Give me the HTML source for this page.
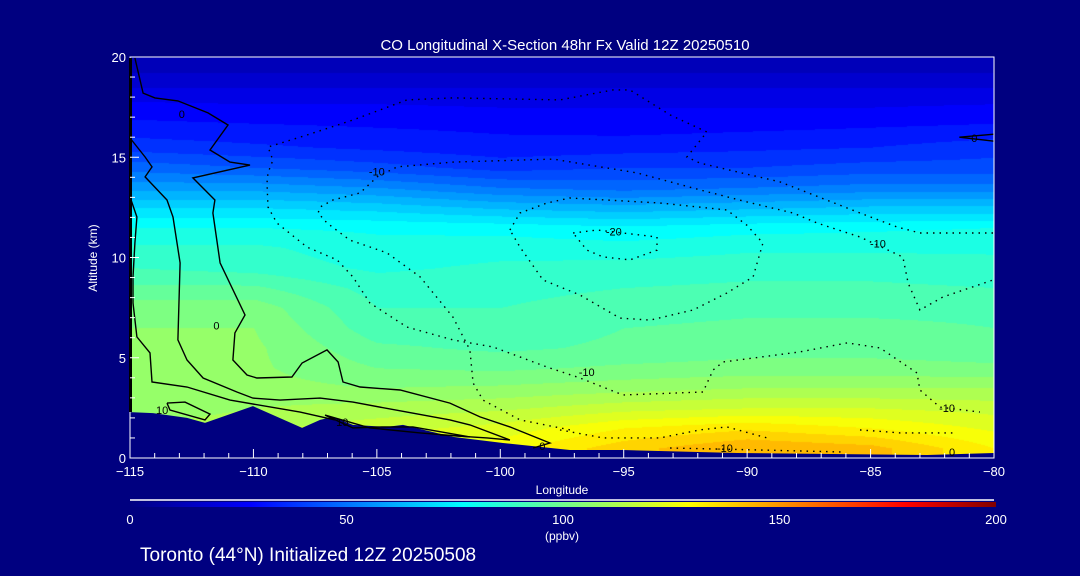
<!DOCTYPE html>
<html><head><meta charset="utf-8">
<style>
body{margin:0;background:#000080;width:1080px;height:576px;overflow:hidden;font-family:"Liberation Sans",sans-serif;}
#wrap{position:relative;width:1080px;height:576px;}
canvas{position:absolute;left:130px;top:57px;}
svg{position:absolute;left:0;top:0;}
text{fill:#fff;font-family:"Liberation Sans",sans-serif;}
</style></head><body>
<div id="wrap">
<canvas id="heat" width="864" height="401"></canvas>
<svg id="svg" width="1080" height="576">
<defs><linearGradient id="cbg" x1="0" x2="1" y1="0" y2="0">
<stop offset="0" stop-color="#000080"/><stop offset="0.14" stop-color="#0000ff"/><stop offset="0.385" stop-color="#00ffff"/><stop offset="0.645" stop-color="#ffff00"/><stop offset="0.77" stop-color="#ff8000"/><stop offset="0.895" stop-color="#ff0000"/><stop offset="1" stop-color="#800000"/></linearGradient></defs>
<text x="565" y="50" font-size="15" text-anchor="middle">CO Longitudinal X-Section 48hr  Fx Valid 12Z 20250510</text>
<g id="terrain"></g>
<g id="contours"></g>
<g id="labels"></g>
<rect x="130" y="57" width="864" height="401" fill="none" stroke="#fff" stroke-width="1"/>
<rect x="129" y="58" width="3" height="354" fill="#000"/>
<g id="axes"></g>
<text x="562" y="494" font-size="12" text-anchor="middle">Longitude</text>
<text x="97" y="258" font-size="12" text-anchor="middle" transform="rotate(-90 97 258)">Altitude (km)</text>
<line x1="130" y1="500" x2="994" y2="500" stroke="#fff" stroke-width="1.5"/>
<rect x="130" y="502" width="866" height="5" fill="url(#cbg)"/>
<g id="cbticks"></g>
<text x="562" y="540" font-size="12" text-anchor="middle">(ppbv)</text>
<text x="140" y="561" font-size="19">Toronto (44°N) Initialized 12Z 20250508</text>
</svg>
</div>
<script>
const lons=[-115,-110,-105,-100,-95,-90,-85,-80];
const alts=[0.5,1.5,2.5,3.5,4.5,5.5,6.5,7.5,8.5,9.5,10.5,11.5,12.5,13.5,14.5,15.5,16.5,17.5,18.5,19.5];
const coValues=[
[115,118,122,128,138,145,142,130],
[110,114,118,122,130,134,130,124],
[106,110,112,114,118,120,120,118],
[106,107,105,106,108,110,110,110],
[106,106,100,99,101,102,102,101],
[106,106,96,94,96,98,98,97],
[105,105,92,92,95,96,96,95],
[103,103,90,90,93,94,94,94],
[96,96,88,88,90,91,91,90],
[90,88,84,86,87,88,88,87],
[86,86,82,83,82,84,84,84],
[80,80,79,78,76,78,79,80],
[70,70,68,64,62,64,66,66],
[58,58,55,50,48,50,52,52],
[48,45,42,38,40,40,42,42],
[38,36,34,32,33,34,35,38],
[32,31,30,29,28,29,30,31],
[27,26,26,25,25,25,25,26],
[20,20,20,20,20,20,20,20],
[13,13,13,13,13,13,13,13]];
const terrain=[[-115,2.29],[-114.07,2.24],[-112.69,2.0],[-111.96,1.75],[-110.02,2.59],[-108.03,1.5],[-107.3,1.9],[-106.78,2.05],[-105.97,1.65],[-104.59,1.55],[-103.94,1.65],[-101.92,1.05],[-99.89,0.75],[-97.18,0.4],[-95.03,0.4],[-90.41,0.25],[-82.71,0.15],[-80,0.25]];
const solidContours=[
[[-114.8,19.95],[-114.47,18.2],[-113.99,17.96],[-113.06,17.81],[-111.84,17.21],[-111.03,16.61],[-111.76,15.36],[-110.95,14.76],[-110.14,14.61],[-112.45,13.97],[-111.56,12.87],[-111.64,12.22],[-111.35,9.73],[-110.34,7.13],[-110.75,6.24],[-110.83,4.89],[-110.26,4.14],[-109.86,3.99],[-108.44,4.04],[-108.03,4.74],[-107.02,5.39],[-106.57,4.79],[-106.37,3.79],[-105.68,3.54],[-104.06,3.39],[-102.04,2.74],[-100.82,2.05],[-99.61,1.55],[-97.99,0.75],[-98.67,0.5]],
[[-115,15.96],[-114.39,15.01],[-114.11,14.52],[-114.39,14.02],[-113.5,12.87],[-113.26,12.02],[-112.97,9.73],[-113.06,5.89],[-112.69,4.89],[-112.04,3.99],[-110.67,3.29],[-110.02,2.99],[-108.92,2.89],[-107.3,2.99],[-105.97,2.79],[-103.78,2.29],[-102.04,1.9],[-101.23,1.65],[-99.61,0.9],[-100.54,1.0],[-102.44,1.15]],
[[-115,13.02],[-114.72,12.02],[-114.8,10.72],[-114.88,9.03],[-114.88,7.73],[-114.72,6.04],[-114.19,5.24],[-114.11,3.79],[-112.69,3.54],[-110.95,2.89],[-108.11,2.29],[-106.7,1.9]],
[[-113.5,2.74],[-112.77,2.79],[-111.76,2.19],[-111.96,1.9],[-113.38,2.39],[-113.5,2.74]],
[[-107.1,2.14],[-105.97,1.5],[-104.75,1.55],[-103.54,1.55],[-101.23,1.05],[-103.25,1.25],[-105.28,1.5],[-107.1,2.14]],
[[-81.4,16.0],[-80,16.15]],[[-81.4,16.0],[-80,15.8]]];
const dottedContours=[
[[-80.04,11.22],[-83.0,11.22],[-83.93,11.52],[-85.43,12.22],[-88.67,13.77],[-89.88,14.12],[-91.91,14.71],[-92.44,15.01],[-91.63,16.26],[-93.12,17.11],[-94.75,18.36],[-95.43,18.36],[-97.58,17.86],[-101.92,17.96],[-103.78,17.86],[-105.97,16.86],[-107.83,16.11],[-109.41,15.51],[-109.21,14.86],[-109.41,14.22],[-109.45,13.72],[-109.41,12.52],[-109.05,11.72],[-107.83,10.52],[-106.61,9.88],[-105.97,9.03],[-105.28,7.73],[-103.78,6.53],[-101.92,5.89],[-100.3,5.54],[-98.11,4.54],[-96.77,3.99],[-95.03,3.14],[-91.79,3.29],[-91.38,4.39],[-90.98,4.79],[-87.86,5.29],[-85.95,5.74],[-84.62,5.49],[-83.12,4.24],[-83.0,3.39],[-82.19,2.54],[-80.57,2.29]],
[[-97.18,1.4],[-99.2,1.9],[-100.7,2.89],[-101.1,3.74],[-101.23,5.39],[-101.92,7.03],[-103.25,9.03],[-104.59,10.23],[-106.09,10.87],[-107.02,11.72],[-107.38,12.22],[-107.3,12.52],[-106.78,12.87],[-105.68,13.22],[-104.99,14.02],[-104.18,14.52],[-101.92,14.76],[-97.86,14.91],[-94.46,14.22],[-91.91,13.37],[-90.0,12.77],[-88.14,12.22],[-87.17,11.72],[-85.43,11.02],[-83.69,10.02],[-83.48,8.73],[-83.0,7.38],[-82.07,8.03],[-80.04,8.88]],
[[-99.61,11.37],[-99.2,12.22],[-98.11,12.72],[-97.18,12.97],[-93.53,12.72],[-90.82,12.37],[-90.0,11.6],[-89.36,10.72],[-89.76,9.03],[-90.82,8.23],[-92.19,7.38],[-93.93,6.88],[-95.15,6.98],[-96.77,8.13],[-98.27,8.88],[-99.2,10.52],[-99.61,11.37]],
[[-97.05,11.22],[-96.08,11.37],[-93.65,11.02],[-93.65,10.37],[-94.75,9.88],[-95.84,10.03],[-96.49,10.37],[-97.05,11.22]],
[[-97.58,1.4],[-95.84,1.0],[-93.53,1.0],[-91.91,1.4],[-90.82,1.55],[-89.2,1.0]],
[[-93.12,0.5],[-89.48,0.4],[-86.12,0.3]],
[[-85.43,1.4],[-83.81,1.25],[-81.66,1.25]]];
const contourLabels=["0","0","10","10","0","-10","-20","-10","-10","-10","-10","0","0"];
const labelLons=[-112.9,-111.5,-113.7,-106.4,-98.3,-105.0,-95.4,-84.7,-96.5,-81.9,-90.9,-81.7,-80.8];
const labelAlts=[17.15,6.6,2.4,1.8,0.6,14.3,11.3,10.7,4.3,2.5,0.5,0.3,15.95];
const xTicks=[-115,-110,-105,-100,-95,-90,-85,-80];
const xTickLabels=["−115","−110","−105","−100","−95","−90","−85","−80"];
const yTicks=[0,5,10,15,20];
const cbTicks=[0,50,100,150,200];

const PX=130,PY=57,PW=864,PH=401;
const xS=l=>PX+(l+115)/35*PW;
const yS=a=>PY+PH-a/20*PH;
const cS=v=>130+v/200*866;
const NS='http://www.w3.org/2000/svg';
const stops=[[0,[0,0,128]],[28,[0,0,255]],[77,[0,255,255]],[129,[255,255,0]],[154,[255,128,0]],[179,[255,0,0]],[200,[128,0,0]]];
function cmap(v){v=Math.max(0,Math.min(200,v));for(let i=1;i<stops.length;i++){if(v<=stops[i][0]){const a=stops[i-1],b=stops[i];const t=(v-a[0])/(b[0]-a[0]);return a[1].map((c,k)=>Math.round(c+(b[1][k]-c)*t));}}return stops[6][1];}
function interp(lon,alt){
  let i=0;while(i<lons.length-2&&lon>lons[i+1])i++;
  let j=0;while(j<alts.length-2&&alt>alts[j+1])j++;
  let tx=Math.max(0,Math.min(1,(lon-lons[i])/(lons[i+1]-lons[i])));
  let ty=Math.max(0,Math.min(1,(alt-alts[j])/(alts[j+1]-alts[j])));
  const v00=coValues[j][i],v10=coValues[j][i+1],v01=coValues[j+1][i],v11=coValues[j+1][i+1];
  return (v00*(1-tx)+v10*tx)*(1-ty)+(v01*(1-tx)+v11*tx)*ty;
}
const ctx=document.getElementById('heat').getContext('2d');
const img=ctx.createImageData(PW,PH);
for(let y=0;y<PH;y++){const alt=(PH-y)/PH*20;for(let x=0;x<PW;x++){const lon=-115+x/PW*35;let v=interp(lon,alt);v=Math.floor(v/5)*5+2.5;const c=cmap(v);const k=(y*PW+x)*4;img.data[k]=c[0];img.data[k+1]=c[1];img.data[k+2]=c[2];img.data[k+3]=255;}}
ctx.putImageData(img,0,0);

function mk(tag,attrs,parent){const e=document.createElementNS(NS,tag);for(const k in attrs)e.setAttribute(k,attrs[k]);parent.appendChild(e);return e;}
const tg=document.getElementById('terrain');
let tp=terrain.map(p=>xS(p[0]).toFixed(1)+','+yS(p[1]).toFixed(1)).join(' ')+' '+xS(-80)+','+yS(0)+' '+xS(-115)+','+yS(0);
const tEl=mk('polygon',{points:tp,fill:'#000080'},tg);


const cg=document.getElementById('contours');
solidContours.forEach(c=>{const e=mk('polyline',{points:c.map(p=>xS(p[0]).toFixed(1)+','+yS(p[1]).toFixed(1)).join(' '),fill:'none',stroke:'#000','stroke-width':1.4},cg);

});
dottedContours.forEach(c=>{const e=mk('polyline',{points:c.map(p=>xS(p[0]).toFixed(1)+','+yS(p[1]).toFixed(1)).join(' '),fill:'none',stroke:'#000','stroke-width':1.4,'stroke-dasharray':'1.5 5'},cg);

});
const lg=document.getElementById('labels');
contourLabels.forEach((t,i)=>{const e=mk('text',{x:xS(labelLons[i]),y:yS(labelAlts[i])+4,'font-size':11,'text-anchor':'middle',style:'fill:#000'},lg);e.textContent=t;

});
const ag=document.getElementById('axes');
for(let l=-115;l<=-80;l++){const maj=(l%5===0);mk('line',{x1:xS(l),x2:xS(l),y1:PY+PH,y2:PY+PH-(maj?9:5),stroke:'#fff','stroke-width':1},ag);}
xTicks.forEach((l,i)=>{const e=mk('text',{x:xS(l),y:476,'font-size':13,'text-anchor':'middle'},ag);e.textContent=xTickLabels[i];

});
for(let a=0;a<=20;a++){mk('line',{x1:PX,x2:PX+(a%5===0?9:5),y1:yS(a),y2:yS(a),stroke:'#fff','stroke-width':1},ag);}
yTicks.forEach(a=>{const e=mk('text',{x:126,y:yS(a)+5,'font-size':13,'text-anchor':'end'},ag);e.textContent=a;

});
const cb=document.getElementById('cbticks');
cbTicks.forEach(v=>{const e=mk('text',{x:cS(v),y:524,'font-size':13,'text-anchor':'middle'},cb);e.textContent=v;

});
</script>
</body></html>
